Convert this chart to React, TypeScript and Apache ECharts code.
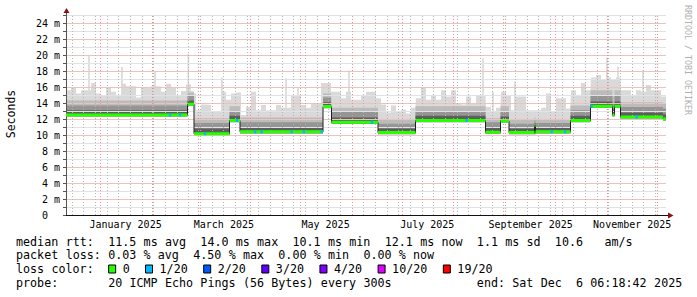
import React, { useEffect, useRef } from 'react';
import * as echarts from 'echarts';

const DAY = 86400000;
const START = Date.UTC(2024, 11, 11, 6, 18, 42);
const SPAN_DAYS = 360;
const END = START + SPAN_DAYS * DAY;

// Median RTT segments (days from START), values in ms
const segStart = [0, 72.9, 76.8, 98.1, 104.4, 154.2, 159.3, 187.2, 209.7, 251.7, 260.7, 265.8, 281.1, 281.7, 302.7, 314.7, 327.9, 329.1, 332.7, 358.2];
const segMedian = [12.5, 13.85, 10.15, 11.8, 10.4, 13.55, 11.6, 10.3, 11.8, 10.35, 11.75, 10.3, 11.2, 10.4, 11.8, 13.6, 12.5, 13.6, 12.25, 12.0];
const segLow = [12.3, 13.65, 9.95, 11.6, 10.2, 13.35, 11.4, 10.1, 11.6, 10.15, 11.55, 10.1, 10.1, 10.2, 11.6, 13.4, 12.3, 13.4, 12.05, 11.8];
const segDark = [13.1, 14.3, 10.8, 12.4, 11.0, 14.1, 12.2, 10.8, 12.4, 10.9, 12.3, 10.8, 11.5, 10.9, 12.4, 14.2, 13.2, 14.2, 12.8, 12.6];
const segMid = [13.7, 14.9, 11.5, 13.0, 11.6, 14.7, 12.9, 11.4, 13.0, 11.6, 13.0, 11.4, 11.8, 11.5, 13.1, 14.9, 14.0, 14.9, 13.5, 13.3];
const segLight = [14.3, 15.3, 12.1, 13.6, 12.2, 15.2, 13.4, 11.9, 13.6, 12.1, 13.6, 11.9, 12.2, 12.0, 13.7, 15.6, 14.8, 15.6, 14.1, 13.9];

// Max smoke per 3-day bucket (ms)
const smokeMax3d = [
  15.6, 16.0, 15.2, 15.6, 15.6, 16.5, 15.2, 15.0, 15.9, 15.4,
  14.9, 16.4, 16.1, 16.1, 14.7, 16.0, 16.0, 16.1, 16.1, 15.4,
  16.4, 16.0, 15.0, 15.5, 16.3, 15.2, 13.1, 13.8, 13.75, 13.0,
  12.9, 15.4, 14.4, 15.2, 15.3, 12.5, 13.5, 15.4, 13.1, 13.75,
  13.1, 13.1, 13.75, 13.4, 13.4, 15.0, 15.0, 13.75, 13.4, 14.0,
  14.0, 16.5, 16.5, 15.4, 15.4, 14.6, 15.4, 14.4, 14.4, 14.9,
  15.4, 15.4, 14.6, 13.8, 12.8, 13.7, 12.9, 13.2, 12.7, 13.4,
  14.6, 16.0, 14.4, 15.0, 14.4, 15.6, 14.8, 15.6, 14.0, 13.75,
  14.8, 14.0, 15.0, 15.0, 13.5, 13.0, 13.4, 15.4, 15.0, 13.1,
  14.8, 14.8, 13.1, 13.1, 13.1, 13.4, 15.2, 13.0, 14.6, 14.6,
  13.3, 15.6, 15.0, 16.5, 15.6, 17.2, 17.5, 17.0, 17.2, 17.0,
  17.2, 15.6, 15.6, 15.0, 15.6, 15.4, 16.25, 15.6, 15.6, 14.8,
];

// Narrow spikes (day, max ms)
const spikeDay = [13.8, 33.6, 53.4, 73.4, 93.6, 132, 139.2, 169.8, 250.2, 256.2, 269.4, 324.6, 331.2, 346.2];
const spikeTop = [20.0, 18.5, 17.9, 20.2, 17.2, 17.1, 16.0, 18.1, 19.6, 15.4, 16.7, 19.7, 18.5, 18.1];

// Loss events (1/20) days
const lossDay = [62.4, 68.4, 83.4, 102.6, 113.4, 117.4, 135.4, 142.8, 153.4, 183.6, 240.4, 291.4, 299.4, 315.4, 342.4];

const xLabelMonths = [0, 2, 4, 6, 8, 10];
const monthNames = ['January', 'February', 'March', 'April', 'May', 'June', 'July', 'August', 'September', 'October', 'November', 'December'];

const lossColors = ['#26ff00', '#00b8ff', '#0059ff', '#5e00ff', '#7e00ff', '#dd00ff', '#ff0000'];
const lossLabels = ['0', '1/20', '2/20', '3/20', '4/20', '10/20', '19/20'];

const legendLine1 = 'median rtt:  11.5 ms avg  14.0 ms max  10.1 ms min  12.1 ms now  1.1 ms sd  10.6   am/s';
const legendLine2 = 'packet loss: 0.03 % avg  4.50 % max  0.00 % min  0.00 % now';
const legendLine3 = 'loss color:';
const legendLine4 = 'probe:       20 ICMP Echo Pings (56 Bytes) every 300s';
const endText = 'end: Sat Dec  6 06:18:42 2025';

const MONO = "'DejaVu Sans Mono', monospace";
const MAJOR = '#e39090';
const MINOR = '#b4b4b4';
const MAJOR_H = '#efc2c2';
const MINOR_H = '#e2e2e2';

const GRID_LEFT = 66;
const GRID_TOP = 15;
const GRID_W = 600;
const GRID_H = 200;
const Y_MAX = 25;

const segEnd = [...segStart.slice(1), SPAN_DAYS];
const segAt = (d: number) => {
  for (let i = 0; i < segStart.length; i++) if (d >= segStart[i] && d < segEnd[i]) return i;
  return segStart.length - 1;
};
const T = (d: number) => START + d * DAY;

const snapT = (t: number) => {
  const px = ((t - START) / (END - START)) * GRID_W;
  const sp = Math.floor(px) + 0.5;
  return START + (sp / GRID_W) * (END - START);
};
const snapV = (v: number) => v - (0.5 * Y_MAX) / GRID_H;

function buildSmoke() {
  const set = new Set<number>();
  for (let i = 0; i <= smokeMax3d.length; i++) set.add(i * 3);
  segStart.forEach((s) => set.add(Math.round(s * 1000) / 1000));
  spikeDay.forEach((d) => {
    set.add(Math.round((d - 0.5) * 1000) / 1000);
    set.add(Math.round((d + 0.5) * 1000) / 1000);
  });
  const bp = [...set].filter((v) => v >= 0 && v <= SPAN_DAYS).sort((a, b) => a - b);
  const layers: number[][][] = [[], [], [], [], []];
  let last: number[] = [];
  for (let k = 0; k < bp.length - 1; k++) {
    const m = (bp[k] + bp[k + 1]) / 2;
    const s = segAt(m);
    const b = Math.min(smokeMax3d.length - 1, Math.floor(m / 3));
    let top = Math.max(smokeMax3d[b], segLight[s] + 0.2);
    spikeDay.forEach((d, i) => {
      if (Math.abs(m - d) < 0.5) top = Math.max(top, spikeTop[i]);
    });
    const vals = [top, segLight[s], segMid[s], segDark[s], segLow[s]];
    vals.forEach((v, j) => layers[j].push([T(bp[k]), v]));
    last = vals;
  }
  last.forEach((v, j) => layers[j].push([END, v]));
  return layers;
}

function buildOption() {
  const layers = buildSmoke();
  const colors = ['#d9d9d9', '#bcbcbc', '#959595', '#5e5e5e', '#ffffff'];
  const area = (data: number[][], color: string) => ({
    type: 'line', data, step: 'end', symbol: 'none', showSymbol: false, silent: true, z: 2,
    lineStyle: { width: 0, opacity: 0 }, areaStyle: { color, opacity: 1 },
  });

  const medianStep: any[] = segStart.map((s, i) => [T(s), segMedian[i]]);
  medianStep.push([END, segMedian[segMedian.length - 1]]);

  const green: any[] = [];
  segStart.forEach((s, i) => {
    green.push([T(s), segMedian[i]]);
    green.push([T(segEnd[i]), segMedian[i]]);
    green.push([T(segEnd[i]), null]);
  });
  const blue: any[] = [];
  lossDay.forEach((d) => {
    const v = segMedian[segAt(d)];
    blue.push([T(d - 0.7), v]);
    blue.push([T(d + 0.7), v]);
    blue.push([T(d + 0.7), null]);
  });

  const monthLines: number[] = [];
  for (let m = 0; m < 12; m++) monthLines.push(Date.UTC(2025, m, 1));
  const weekLines: number[] = [];
  for (let t = Date.UTC(2024, 11, 15); t < END; t += 7 * DAY) weekLines.push(t);
  const hLines: number[] = [];
  for (let v = 1; v <= Y_MAX; v++) hLines.push(v);

  const vLine = (t: number, color: string) => [
    { coord: [snapT(t), 0], lineStyle: { color, type: [1, 2], width: 1 } },
    { coord: [snapT(t), Y_MAX] },
  ];
  const hLine = (v: number, color: string) => [
    { coord: [START, snapV(v)], lineStyle: { color, type: 'solid', width: 1 } },
    { coord: [END, snapV(v)] },
  ];

  const CW = 7.09;
  const LX = 16;
  const rowY = [241.7, 255.3, 268.9, 282.6];
  const texts: any[] = [];
  const addTokens = (line: string, y: number, startCol = 0) => {
    const re = /\S+/g;
    let mm: RegExpExecArray | null;
    while ((mm = re.exec(line))) {
      texts.push({
        type: 'text', x: LX + (startCol + mm.index) * CW, y,
        style: { text: mm[0], fontFamily: MONO, fontSize: 11.7, fill: '#000', verticalAlign: 'middle' },
      });
    }
  };
  addTokens(legendLine1, rowY[0]);
  addTokens(legendLine2, rowY[1]);
  addTokens(legendLine3, rowY[2]);
  addTokens(legendLine4, rowY[3]);
  addTokens(endText, rowY[3], 65);
  let col = 13;
  lossLabels.forEach((lab, i) => {
    texts.push({
      type: 'rect', shape: { x: LX + col * CW + 0.5, y: 265, width: 7, height: 8 },
      style: { fill: lossColors[i], stroke: '#000', lineWidth: 1 },
    });
    const tc = col + 2.05;
    texts.push({
      type: 'text', x: LX + tc * CW, y: rowY[2],
      style: { text: lab, fontFamily: MONO, fontSize: 11.7, fill: '#000', verticalAlign: 'middle' },
    });
    col = tc + lab.length + 2.15;
  });

  const graphic = [
    ...texts,
    {
      type: 'text', x: 11, y: 114, rotation: Math.PI / 2,
      style: { text: 'Seconds', fontFamily: MONO, fontSize: 11.5, fill: '#000', align: 'center', verticalAlign: 'middle' },
    },
    {
      type: 'text', x: 687.5, y: 60, rotation: -Math.PI / 2,
      style: { text: 'RRDTOOL / TOBI OETIKER', fontFamily: MONO, fontSize: 8.3, fill: '#b0b0b0', align: 'center', verticalAlign: 'middle' },
    },
    { type: 'line', shape: { x1: 66.5, y1: 15, x2: 66.5, y2: 11 }, style: { stroke: '#555', lineWidth: 1 } },
    { type: 'polygon', shape: { points: [[63.5, 13], [69.5, 13], [66.5, 8]] }, style: { fill: '#8b1010' } },
    { type: 'line', shape: { x1: 666, y1: 215.5, x2: 670, y2: 215.5 }, style: { stroke: '#111', lineWidth: 1 } },
    { type: 'polygon', shape: { points: [[668, 212.5], [668, 218.5], [673.5, 215.5]] }, style: { fill: '#8b1010' } },
  ];

  return {
    animation: false,
    backgroundColor: '#ffffff',
    grid: { left: GRID_LEFT, top: GRID_TOP, width: GRID_W, height: GRID_H, containLabel: false },
    xAxis: {
      type: 'value', min: START, max: END, z: 5,
      axisLine: { show: true, lineStyle: { color: '#111', width: 1 } },
      axisTick: { show: false },
      splitLine: { show: false },
      axisLabel: {
        show: true, margin: 4, fontFamily: MONO, fontSize: 10, color: '#000',
        customValues: xLabelMonths.map((m) => Date.UTC(2025, m, 16)),
        formatter: (v: number) => {
          const d = new Date(v);
          return monthNames[d.getUTCMonth()] + ' ' + d.getUTCFullYear();
        },
      },
    },
    yAxis: {
      type: 'value', min: 0, max: Y_MAX, interval: 1, z: 5,
      axisLine: { show: true, lineStyle: { color: '#555', width: 1 } },
      axisTick: { show: true, length: 3, lineStyle: { color: '#555' } },
      axisLabel: {
        margin: 6, fontFamily: MONO, fontSize: 10, color: '#000',
        formatter: (v: number) => (v % 2 === 0 && v < Y_MAX ? (v === 0 ? '{z|0}' : v + ' m') : ''),
        rich: { z: { fontFamily: MONO, fontSize: 10, color: '#000', padding: [0, 12, 0, 0] } },
      },
      splitLine: { show: false },
    },
    graphic,
    series: [
      ...layers.map((d, j) => area(d, colors[j])),
      {
        type: 'line', data: [[START, null], [END, null]], z: 4, silent: true, symbol: 'none',
        markLine: {
          silent: true, symbol: ['none', 'none'], label: { show: false }, animation: false,
          data: hLines.map((v) => hLine(v, v % 2 === 0 ? MAJOR_H : MINOR_H)),
        },
      },
      {
        type: 'line', data: [[START, null], [END, null]], z: 5, silent: true, symbol: 'none',
        markLine: {
          silent: true, symbol: ['none', 'none'], label: { show: false }, animation: false,
          data: [
            ...weekLines.map((t) => vLine(t, MINOR)),
            ...monthLines.map((t) => vLine(t, MAJOR)),
          ],
        },
      },
      {
        type: 'line', data: medianStep, step: 'end', symbol: 'none', showSymbol: false, silent: true, z: 6,
        lineStyle: { color: '#202020', width: 1 },
      },
      {
        type: 'line', data: green, symbol: 'none', showSymbol: false, silent: true, z: 6, connectNulls: false,
        lineStyle: { color: lossColors[0], width: 3, cap: 'butt' },
      },
      {
        type: 'line', data: blue, symbol: 'none', showSymbol: false, silent: true, z: 7, connectNulls: false,
        lineStyle: { color: lossColors[1], width: 3, cap: 'butt' },
      },
    ],
  };
}

export default function App() {
  const ref = useRef<HTMLDivElement>(null);
  useEffect(() => {
    document.body.style.margin = '0';
    const chart = echarts.init(ref.current!, null, { renderer: 'svg', width: 697, height: 297 });
    chart.setOption(buildOption() as any);
    return () => chart.dispose();
  }, []);
  return <div ref={ref} style={{ position: 'absolute', left: 0, top: 0, width: 697, height: 297, background: '#fff' }} />;
}
